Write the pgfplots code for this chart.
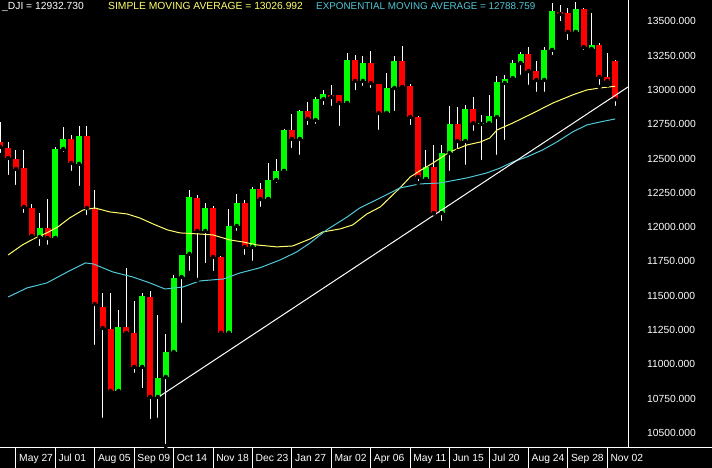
\documentclass[border=0pt]{standalone}
\usepackage{fontspec}
\setmainfont{Liberation Sans}
\usepackage{pgfplots}
\pgfplotsset{compat=1.18}
\usepackage{pgfplotstable}
\definecolor{cgreen}{RGB}{0,255,0}
\definecolor{cred}{RGB}{255,0,0}
\definecolor{smay}{RGB}{255,255,110}
\definecolor{emac}{RGB}{80,200,215}

\pgfplotstableread{
i o h l c
3 11928 12103 11848 11994
5 11921 12585 11921 12570
6 12570 12730 12534 12643
8 12461 12738 12286 12665
13 10806 11396 10791 11273
16 10981 11520 10813 11498
18 10762 11360 10595 10901
19 10908 11221 10404 11090
20 11090 11652 11080 11630
21 11637 11800 11287 11797
22 11805 12271 11666 12220
24 11972 12176 11724 12140
27 11229 12133 11229 12009
28 12009 12242 11958 12176
30 11856 12290 11739 12278
32 12205 12468 12205 12344
33 12344 12497 12308 12410
34 12410 12715 12400 12708
36 12643 12854 12512 12847
38 12781 12949 12738 12934
39 12934 13000 12876 12971
42 12905 13270 12905 13219
44 13066 13248 13015 13197
47 12832 13124 12832 13015
48 13015 13248 12832 13211
52 12351 12563 12340 12439
54 12103 12599 12031 12541
55 12541 12883 12395 12752
57 12628 12891 12439 12862
59 12752 12818 12475 12762
60 12759 12964 12750 12810
61 12803 13102 12512 13058
62 13051 13109 12621 13080
63 13087 13219 13080 13197
64 13197 13277 13095 13262
67 13073 13313 12971 13292
68 13292 13634 13241 13576
71 13423 13641 13420 13590
73 13299 13561 13295 13328
}\upcandles

\pgfplotstableread{
i o h l c
-2 12621 12767 12526 12585
-1 12577 12621 12366 12504
0 12497 12563 12293 12424
1 12431 12563 12089 12147
2 12140 12169 11928 11936
4 11994 12205 11856 11921
7 12643 12672 12395 12468
9 12665 12738 12074 12140
10 12133 12271 11127 11440
11 11418 11520 10595 11265
12 11258 11520 10791 10806
14 11273 11703 11200 11229
15 11229 11462 10923 10981
17 11491 11535 10587 10762
23 12213 12235 11615 11972
25 12140 12154 11666 11783
26 11783 11790 11229 11229
29 12176 12198 11783 11856
31 12278 12322 12133 12205
35 12708 12825 12563 12643
37 12847 12913 12730 12789
40 12964 13036 12869 12949
41 12964 12964 12723 12905
43 13219 13255 12985 13066
45 13197 13284 13000 13051
46 13044 13044 12694 12832
49 13211 13321 13020 13022
50 13029 13040 12730 12803
51 12803 12810 12322 12366
53 12439 12599 12100 12103
56 12752 12876 12555 12628
58 12862 12949 12687 12759
65 13262 13313 13022 13138
66 13138 13211 12971 13073
69 13569 13620 13488 13554
70 13561 13598 13350 13423
72 13590 13600 13277 13313
74 13328 13343 13022 13095
75 13095 13270 13036 13066
76 13211 13215 12869 12933
}\downcandles

\pgfplotstableread{
i v
-1.0 11797
0.8 11870
2.2 11914
3.9 11958
5.3 12001
6.8 12067
8.5 12125
10.0 12140
11.9 12111
14.1 12096
15.7 12067
17.4 12023
19.2 11980
20.8 11958
23.3 11950
25.0 11943
27.1 11907
28.8 11892
30.6 11870
33.1 11856
35.1 11863
37.3 11914
38.9 11965
41.1 11987
42.7 12016
44.5 12096
46.2 12147
48.7 12286
50.0 12366
51.2 12410
52.9 12468
55.0 12548
57.2 12599
58.9 12621
60.1 12650
61.0 12708
63.0 12759
65.6 12832
68.1 12905
70.6 12964
72.4 13000
74.1 13015
76.0 13027
}\sma

\pgfplotstableread{
i v
-1.0 11491
1.4 11557
3.9 11593
6.5 11673
8.8 11739
9.8 11732
12.3 11673
14.8 11637
17.0 11593
18.9 11549
21.2 11564
23.3 11608
26.3 11622
28.4 11666
30.9 11703
33.5 11761
35.6 11819
37.3 11885
39.4 11980
42.0 12074
43.6 12140
46.2 12213
48.7 12286
51.2 12315
53.8 12322
57.2 12359
59.7 12395
61.4 12431
63.0 12475
64.8 12512
66.8 12563
68.6 12621
70.6 12694
72.4 12745
74.1 12767
76.0 12789
}\ema

\begin{document}
\fontsize{10.3}{12}\selectfont
\begin{tikzpicture}[x=1pt,y=1pt]
\fill[black] (0,0) rectangle (712,468);
\begin{axis}[
  at={(0pt,20pt)}, anchor=south west,
  scale only axis, width=628pt, height=448pt,
  xmin=-2.029, xmax=77.625, ymin=10390, ymax=13656,
  axis x line=bottom, axis y line=right,
  axis line style={white, line width=1pt, -},
  xtick={0,5,...,75},
  xticklabels={May 27,Jul 01,Aug 05,Sep 09,Oct 14,Nov 18,Dec 23,Jan 27,Mar 02,Apr 06,May 11,Jun 15,Jul 20,Aug 24,Sep 28,Nov 02},
  x tick style={white, line width=1pt},
  tick align=outside, major tick length=20pt,
  xticklabel style={text=white, anchor=base west, inner sep=0pt, xshift=3pt, yshift=7pt},
  scaled y ticks=false,
  ytick={10500,10750,...,13500},
  ytick style={draw=none},
  yticklabel style={text=white, anchor=west, inner sep=0pt, xshift=-1pt},
  y tick label style={/pgf/number format/fixed, /pgf/number format/fixed zerofill,
    /pgf/number format/precision=3, /pgf/number format/1000 sep={},
    /pgf/number format/assume math mode=true},
  clip=true,
]
% wicks
\addplot[only marks, mark=none, forget plot, error bars/.cd, y dir=plus, y explicit, error mark=none,
  error bar style={draw=white, line width=1pt}]
  table[x=i, y=l, y error plus expr=\thisrow{h}-\thisrow{l}] {\upcandles};
\addplot[only marks, mark=none, forget plot, error bars/.cd, y dir=plus, y explicit, error mark=none,
  error bar style={draw=white, line width=1pt}]
  table[x=i, y=l, y error plus expr=\thisrow{h}-\thisrow{l}] {\downcandles};
% bodies
\addplot[only marks, mark=none, forget plot, error bars/.cd, y dir=plus, y explicit, error mark=none,
  error bar style={draw=cgreen, line width=6pt}]
  table[x=i, y=o, y error plus expr=\thisrow{c}-\thisrow{o}] {\upcandles};
\addplot[only marks, mark=none, forget plot, error bars/.cd, y dir=plus, y explicit, error mark=none,
  error bar style={draw=cred, line width=6pt}]
  table[x=i, y=c, y error plus expr=\thisrow{o}-\thisrow{c}] {\downcandles};
% averages
\addplot[smay, line width=1pt, no marks] table[x=i, y=v] {\sma};
\addplot[emac, line width=1pt, no marks] table[x=i, y=v] {\ema};
% trend line
\addplot[white, line width=1pt, no marks] coordinates {(17.9,10755) (77.625,13022)};
\end{axis}
\draw[white, line width=1pt] (628,20) -- (712,20);
\node[anchor=base west, inner sep=0pt, text=white] at (2,458) {\_DJI = 12932.730};
\node[anchor=base west, inner sep=0pt, text=smay] at (108,458) {SIMPLE MOVING AVERAGE = 13026.992};
\node[anchor=base west, inner sep=0pt, text=emac, font=\fontsize{9.85}{12}\selectfont] at (316,458) {EXPONENTIAL MOVING AVERAGE = 12788.759};
\pgfresetboundingbox
\useasboundingbox (0,0) rectangle (712,468);
\end{tikzpicture}
\end{document}
